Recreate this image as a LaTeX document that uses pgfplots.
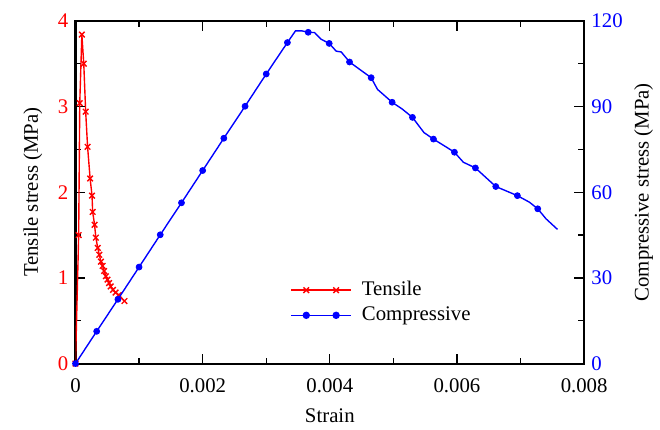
\documentclass[border=0pt]{standalone}
\usepackage{fontspec}
\setmainfont{Liberation Serif}
\usepackage{pgfplots}
\pgfplotsset{compat=1.18}
\begin{document}
\fontsize{10.5}{12}\selectfont
\begin{tikzpicture}
\pgfplotsset{
  every axis/.append style={
    scale only axis, width=256bp, height=172.5bp,
    xmin=0, xmax=0.008,
    font=\fontsize{10.5}{12}\selectfont,
    /pgf/number format/assume math mode=true,
    tick style={black, line width=0.6pt},
    major tick length=5bp, minor tick length=3bp,
    axis line style={line width=1.1pt},
  },
  mylegend/.style={legend image code/.code={
    \draw[mark repeat=2,mark phase=2,##1] plot coordinates {(0cm,0cm) (0.27cm,0cm) (0.535cm,0cm) (0.8cm,0cm) (1.07cm,0cm)};}},
}
\begin{axis}[
  ymin=0, ymax=4,
  scaled x ticks=false,
  xtick={0,0.002,0.004,0.006,0.008},
  xticklabels={0,0.002,0.004,0.006,0.008},
  minor x tick num=1, xtick pos=both,
  xticklabel style={yshift=-4bp},
  ytick={0,1,2,3,4}, minor y tick num=1, ytick pos=left,
  yticklabel style={red},
  xlabel={Strain}, ylabel={Tensile stress (MPa)},
  xlabel style={at={(axis description cs:0.5,-0.153)}, anchor=center},
  ylabel style={at={(axis description cs:-0.084,0.5)}, anchor=center},
]
\addplot[red, line width=0.7pt, mark=x, mark size=2pt] coordinates {
(0,0) (0.00005,1.50) (0.000067,3.04) (0.0001,3.84) (0.00013,3.50) (0.00016,2.94)
(0.00019,2.53) (0.00023,2.16) (0.00026,1.96) (0.00027,1.77) (0.0003,1.62)
(0.00032,1.47) (0.00035,1.35) (0.000374,1.27) (0.0004,1.19) (0.000426,1.14)
(0.000451,1.08) (0.000477,1.02) (0.000503,0.98) (0.000528,0.94) (0.000554,0.90)
(0.00059,0.86) (0.00063,0.83) (0.00068,0.80) (0.00077,0.73)
};
\end{axis}
\begin{axis}[
  ymin=0, ymax=120,
  axis y line*=right, axis x line=none,
  ytick={0,30,60,90,120}, minor y tick num=1,
  yticklabel style={blue},
  ylabel={Compressive stress (MPa)},
  ylabel style={at={(axis description cs:1.117,0.5)}, anchor=center},
  mylegend,
  legend style={draw=none, fill=none, at={(0.41,0.178)}, anchor=west,
    font=\fontsize{10.5}{12}\selectfont, row sep=0bp, column sep=3bp},
  legend cell align=left,
]
\addlegendimage{red, line width=0.7pt, mark=x, mark size=2pt}
\addlegendentry{Tensile}
\addlegendimage{blue, line width=0.7pt, mark=*, mark size=1.5pt}
\addlegendentry{Compressive}
\addplot[blue, line width=0.7pt, forget plot] coordinates {
(0,0) (0.000333,11.3) (0.000667,22.5) (0.001,33.8) (0.001333,45.1) (0.001667,56.3)
(0.002,67.6) (0.002333,78.9) (0.002667,90.1) (0.003,101.4) (0.003333,112.4)
(0.00346,116.5) (0.00356,116.5) (0.00366,116.0) (0.00376,115.9) (0.00386,113.6)
(0.00399,112.1) (0.0041,109.4) (0.00418,109.1) (0.00431,105.6) (0.00447,103.0)
(0.00465,100.1) (0.00475,96.0) (0.00498,91.5) (0.00514,89.1) (0.0053,86.2)
(0.00548,80.9) (0.00563,78.6) (0.00584,75.7) (0.00596,74.0) (0.0061,70.5)
(0.00629,68.5) (0.00661,62.0) (0.00695,58.8) (0.00714,56.5) (0.00727,54.2)
(0.0074,50.7) (0.00758,47.0)
};
\addplot[blue, only marks, mark=*, mark size=1.5pt, forget plot] coordinates {
(0,0) (0.000333,11.3) (0.000667,22.5) (0.001,33.8) (0.001333,45.1) (0.001667,56.3)
(0.002,67.6) (0.002333,78.9) (0.002667,90.1) (0.003,101.4) (0.003333,112.4)
(0.00366,116.0) (0.00399,112.1) (0.00431,105.6) (0.00465,100.1) (0.00498,91.5)
(0.0053,86.2) (0.00563,78.6) (0.00596,74.0) (0.00629,68.5) (0.00661,62.0)
(0.00695,58.8) (0.00727,54.2)
};
\end{axis}
\path (-38bp,-29.5bp) rectangle (292bp,183bp);
\end{tikzpicture}
\end{document}
